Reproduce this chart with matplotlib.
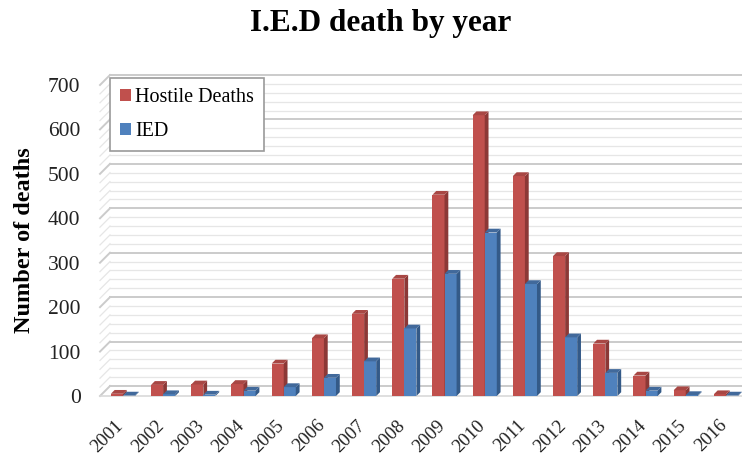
import matplotlib
matplotlib.use("Agg")
from matplotlib import pyplot as plt
from matplotlib.patches import Polygon, Patch
import numpy as np

# data
years = ["2001", "2002", "2003", "2004", "2005", "2006", "2007", "2008",
         "2009", "2010", "2011", "2012", "2013", "2014", "2015", "2016"]
hostile = [5, 25, 26, 27, 73, 130, 185, 264, 453, 632, 495, 315, 118, 46, 13, 4]
ied = [1, 4, 3, 12, 20, 41, 78, 152, 275, 368, 252, 132, 52, 12, 2, 1]

red, red_side, red_top = "#C0504D", "#8C3836", "#A84744"
blue, blue_side, blue_top = "#4F81BD", "#345A88", "#41699B"

plt.rcParams['font.family'] = ['Liberation Serif', 'DejaVu Serif']

fig = plt.figure(figsize=(7.42, 4.57), dpi=100)
ax = fig.add_axes([100 / 742, 61 / 457, 642 / 742, 311 / 457])

xmin, xmax = -0.57, 15.4
ymax = 700
ax.set_xlim(xmin, xmax)
ax.set_ylim(0, ymax)

# pixel -> data helpers for the fake 3D depth
px_x = (xmax - xmin) / 642.0
px_y = ymax / 311.0
wall_dx, wall_dy = 10 * px_x, 10 * px_y
bar_dx, bar_dy = 3.8 * px_x, 3.8 * px_y

# back wall grid + left wall diagonals
for v in range(0, ymax + 1, 20):
    major = v % 100 == 0
    col = "#CBCBCB" if major else "#E6E6E6"
    lw = 1.4 if major else 0.9
    ax.plot([xmin + wall_dx, xmax], [v + wall_dy, v + wall_dy], color=col,
            lw=lw, zorder=0, clip_on=False)
    ax.plot([xmin, xmin + wall_dx], [v, v + wall_dy], color=col, lw=lw,
            zorder=0, clip_on=False)
ax.plot([xmin, xmax], [0, 0], color="#D9D9D9", lw=1.2, zorder=0, clip_on=False)

x = np.arange(len(years))
w = 0.3


def draw_bars(lefts, vals, front, side, top, z):
    ax.bar(lefts, vals, width=w, align="edge", color=front, zorder=z, lw=0)
    for l, v in zip(lefts, vals):
        r = l + w
        ax.add_patch(Polygon([(r, 0), (r, v), (r + bar_dx, v + bar_dy),
                              (r + bar_dx, bar_dy)], closed=True,
                             facecolor=side, lw=0, zorder=z))
        ax.add_patch(Polygon([(l, v), (r, v), (r + bar_dx, v + bar_dy),
                              (l + bar_dx, v + bar_dy)], closed=True,
                             facecolor=top, lw=0, zorder=z))


draw_bars(x - w, hostile, red, red_side, red_top, 2)
draw_bars(x, ied, blue, blue_side, blue_top, 3)

for s in ax.spines.values():
    s.set_visible(False)
ax.set_yticks(range(0, ymax + 1, 100))
# tick marks are hidden, labels sit a little left of the bar pair
ax.set_xticks(x - 0.2)
ax.set_xticklabels(years, rotation=45, ha="right", rotation_mode="anchor",
                   fontsize=13.5)
ax.tick_params(axis="y", length=0, pad=14, labelsize=15.5, labelcolor="#222222")
ax.tick_params(axis="x", length=0, pad=15, labelcolor="#222222")

fig.text(381 / 742, 1 - 24 / 457, "I.E.D death by year", ha="center",
         va="center", fontsize=22.5, fontweight="bold")
fig.text(25 / 742, 1 - 240 / 457, "Number of deaths", rotation=90,
         ha="center", va="center", fontsize=17.5, fontweight="bold")

handles = [Patch(facecolor=red, label="Hostile Deaths"),
           Patch(facecolor=blue, label="IED")]
leg = ax.legend(handles=handles, loc="upper left",
                bbox_to_anchor=(110 / 742, 1 - 78 / 457),
                bbox_transform=fig.transFigure, borderaxespad=0,
                fontsize=14.5, handlelength=0.55, handleheight=0.55,
                handletextpad=0.2, labelspacing=0.75, borderpad=0.5,
                fancybox=False, framealpha=1)
leg.get_frame().set_edgecolor("#9A9A9A")
leg.get_frame().set_linewidth(1.2)
leg.set_zorder(5)

fig.savefig("out.png", dpi=100)
